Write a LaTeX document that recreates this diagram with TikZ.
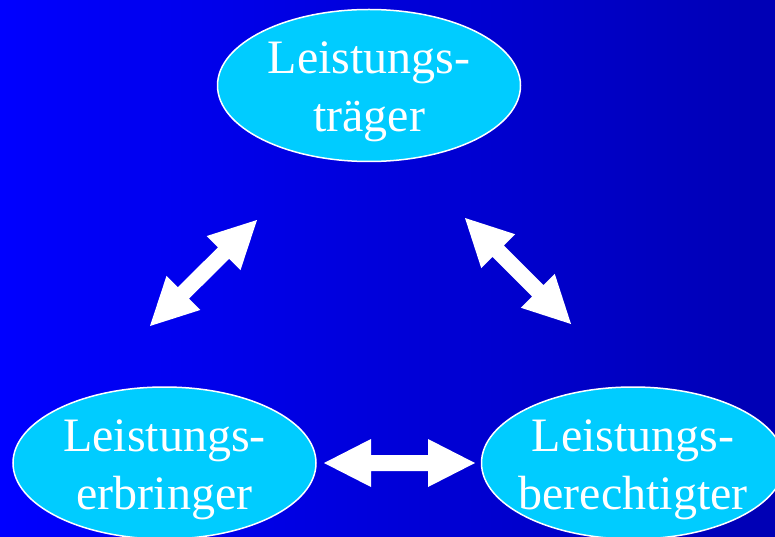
\documentclass[tikz,border=0pt]{standalone}
\usepackage{fontspec}
\setmainfont{Liberation Serif}
\usetikzlibrary{calc,shapes.geometric}
\definecolor{bgL}{RGB}{0,0,255}
\definecolor{bgM}{RGB}{0,0,234}
\definecolor{bgR}{RGB}{0,0,180}
\definecolor{ellfill}{RGB}{0,204,255}
\newcommand\dblarr[2]{%
  \fill[white] (#1)
    -- ($(#1)!47pt!(#2)!24pt!90:(#2)$)
    -- ($(#1)!47pt!(#2)!8pt!90:(#2)$)
    -- ($(#2)!47pt!(#1)!8pt!-90:(#1)$)
    -- ($(#2)!47pt!(#1)!24pt!-90:(#1)$)
    -- (#2)
    -- ($(#2)!47pt!(#1)!24pt!90:(#1)$)
    -- ($(#2)!47pt!(#1)!8pt!90:(#1)$)
    -- ($(#1)!47pt!(#2)!8pt!-90:(#2)$)
    -- ($(#1)!47pt!(#2)!24pt!-90:(#2)$)
    -- cycle;}
\begin{document}
\begin{tikzpicture}[x=1pt,y=-1pt,
  party/.style={ellipse, draw=white, line width=1.5pt, fill=ellfill,
    minimum width=303pt, minimum height=152pt, inner sep=0pt},
  ptext/.style={text=white, font=\fontsize{48}{58}\selectfont, align=center, inner sep=0pt}]
  \useasboundingbox (0,0) rectangle (775,537);
  \shade[left color=bgL, middle color=bgM, right color=bgR] (0,0) rectangle (775,537);
  \clip (0,0) rectangle (775,537);
  \node[party] (traeger) at (369,85.5) {};
  \node[party] (erbringer) at (164.5,463) {};
  \node[party] (berecht) at (633,463) {};
  \node[ptext] (t1) at ($(traeger.center)+(0,6.5)$) {Leistungs-\\träger};
  \node[ptext] (t2) at ($(erbringer.center)+(0,7)$) {Leistungs-\\erbringer};
  \node[ptext] (t3) at ($(berecht.center)+(0,7)$) {Leistungs-\\berechtigter};
  \coordinate (a1) at (150,326);
  \coordinate (a2) at (257,220);
  \coordinate (b1) at (465,218);
  \coordinate (b2) at (571,324);
  \coordinate (c1) at (324,463);
  \coordinate (c2) at (475,463);
  \dblarr{a1}{a2}
  \dblarr{b1}{b2}
  \dblarr{c1}{c2}
\end{tikzpicture}
\end{document}
